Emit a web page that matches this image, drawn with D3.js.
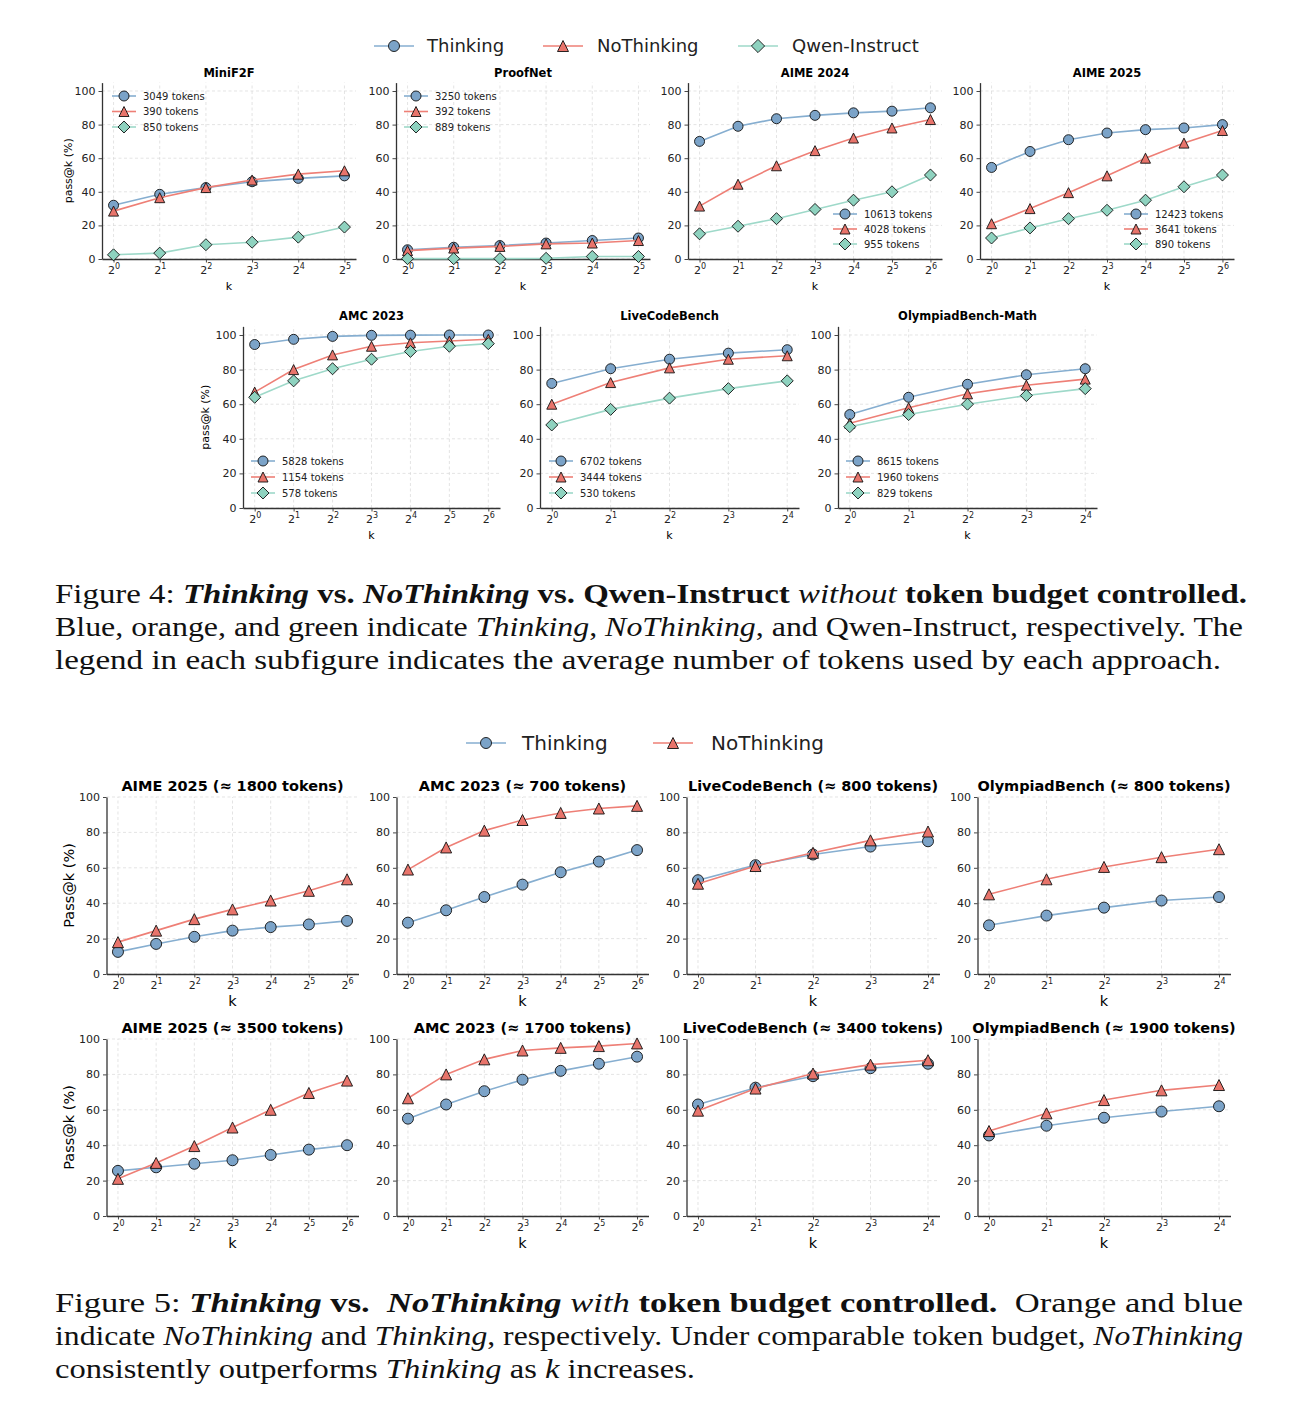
<!DOCTYPE html>
<html>
<head>
<meta charset="utf-8">
<script src="https://cdn.jsdelivr.net/npm/d3@7"></script>
<style>
body{margin:0;background:#fff}
svg{display:block}
text{font-family:"DejaVu Sans",sans-serif}
svg text.cap{font-family:"Liberation Serif","Times New Roman",serif;white-space:pre}
</style>
</head>
<body>
<div id="chart"></div>
<script>
const width = 1302
const height = 1419

// ---- data ----
const exp5 = [0,1,2,3,4]
const exp6 = [0,1,2,3,4,5]
const exp7 = [0,1,2,3,4,5,6]
const yTicks = [0,20,40,60,80,100]
const names4 = ["Thinking","NoThinking","Qwen-Instruct"]
const names5 = ["Thinking","NoThinking"]

// figure 4
const minif2fThinking = [32,38.5,42.5,46,48,49.5]
const minif2fNoThinking = [28.5,36.5,42.5,47,50.5,52.5]
const minif2fQwen = [2.5,3.5,8.5,10,13,19]
const minif2fTokens = ["3049 tokens","390 tokens","850 tokens"]

const proofnetThinking = [5.5,7,8,9.5,11,12.5]
const proofnetNoThinking = [5,6.5,7.5,9,9.5,11]
const proofnetQwen = [0.2,0.2,0.2,0.4,1.5,1.5]
const proofnetTokens = ["3250 tokens","392 tokens","889 tokens"]

const aime24Thinking = [70,79,83.5,85.5,87,88,90]
const aime24NoThinking = [31.5,44.5,55.5,64.5,72,78,83]
const aime24Qwen = [15,19.5,24,29.5,35,40,50]
const aime24Tokens = ["10613 tokens","4028 tokens","955 tokens"]

const aime25Thinking = [54.5,64,71,75,77,78,80]
const aime25NoThinking = [21,30,39.5,49.5,60,69,76.5]
const aime25Qwen = [12.5,18.5,24,29,35,43,50]
const aime25Tokens = ["12423 tokens","3641 tokens","890 tokens"]

const amcThinking = [94.5,97.5,99.2,99.8,99.9,100,100]
const amcNoThinking = [67,80,88.5,93.5,95.5,96.5,97.5]
const amcQwen = [64,73.5,80.5,86,90.5,93.5,95]
const amcTokens = ["5828 tokens","1154 tokens","578 tokens"]

const lcbThinking = [72,80.5,86,89.5,91.5]
const lcbNoThinking = [60,72.5,81,86,88]
const lcbQwen = [48,57,63.5,69,73.5]
const lcbTokens = ["6702 tokens","3444 tokens","530 tokens"]

const olyThinking = [54,64,71.5,77,80.5]
const olyNoThinking = [49,58,66,71,74.5]
const olyQwen = [47,54,60,65,69]
const olyTokens = ["8615 tokens","1960 tokens","829 tokens"]

// figure 5
const b_aime1800Thinking = [12.5,17,21,24.5,26.5,28,30]
const b_aime1800NoThinking = [18,24.5,31,36.5,41.5,47,53.5]
const b_amc700Thinking = [29,36,43.5,50.5,57.5,63.5,70]
const b_amc700NoThinking = [59,71.5,81,87,91,93.5,95]
const b_lcb800Thinking = [53,61.5,67.5,72,75]
const b_lcb800NoThinking = [51,61,68.5,75.5,80.5]
const b_oly800Thinking = [27.5,33,37.5,41.5,43.5]
const b_oly800NoThinking = [45,53.5,60.5,66,70.5]

const b_aime3500Thinking = [25.5,27.5,29.5,31.5,34.5,37.5,40]
const b_aime3500NoThinking = [21,30,39.5,50,60,69.5,76.5]
const b_amc1700Thinking = [55,63,70.5,77,82,86,90]
const b_amc1700NoThinking = [66.5,80,88.5,93.5,95,96,97.5]
const b_lcb3400Thinking = [63,72.5,79,83.5,86]
const b_lcb3400NoThinking = [59.5,72,80.5,85.5,88]
const b_oly1900Thinking = [45.5,51,55.5,59,62]
const b_oly1900NoThinking = [48,58,65.5,71,74]

// ---- styles ----
const fills = ["#7BA3C8","#E8746B","#8ED2BF"]
const strokes = ["#86AED0","#EE7F76","#9ED9C9"]
const shapes = ["circle","triangle","diamond"]

const svg = d3.select("div#chart").append("svg").attr("width",width).attr("height",height)

function marker(g, shape, cx, cy, s, fill){
    let el
    if(shape=="circle"){
        el = g.append("circle").attr("cx",cx).attr("cy",cy).attr("r",s)
    } else if(shape=="triangle"){
        el = g.append("path").attr("d",`M${cx},${cy-s}L${cx+s},${cy+s}L${cx-s},${cy+s}Z`)
    } else {
        const d = s*1.2
        el = g.append("path").attr("d",`M${cx},${cy-d}L${cx+d},${cy}L${cx},${cy+d}L${cx-d},${cy}Z`)
    }
    el.attr("fill",fill).attr("stroke","#111").attr("stroke-width",0.9)
}

function panel(p, o){
    const g = svg.append("g")
    const n = p.exps.length
    const pad = (n-1)*0.05
    const x = d3.scaleLinear().domain([-pad, n-1+pad]).range([p.x0, p.x0+p.w])
    const y = d3.scaleLinear().domain(o.ydom).range([p.bottom, p.bottom-p.h])

    // grid
    g.append("g").selectAll("line").data(yTicks).join("line")
        .attr("x1",p.x0).attr("x2",p.x0+p.w).attr("y1",d=>y(d)).attr("y2",d=>y(d))
        .attr("stroke","#d9d9d9").attr("stroke-width",0.7).attr("stroke-dasharray","3,2.5")
    g.append("g").selectAll("line").data(p.exps).join("line")
        .attr("x1",d=>x(d)).attr("x2",d=>x(d)).attr("y1",p.bottom).attr("y2",p.bottom-p.h)
        .attr("stroke","#d9d9d9").attr("stroke-width",0.7).attr("stroke-dasharray","3,2.5")

    // axes
    const yAxisGroup = g.append("g").attr("transform",`translate(${p.x0},0)`)
        .call(d3.axisLeft(y).tickValues(yTicks).tickSize(3.5).tickSizeOuter(0).tickPadding(3))
    const xAxisGroup = g.append("g").attr("transform",`translate(0,${p.bottom})`)
        .call(d3.axisBottom(x).tickValues(p.exps).tickSize(3.5).tickSizeOuter(0).tickFormat(""))
    yAxisGroup.selectAll("text").attr("font-size",11).attr("fill","#222").attr("font-family","DejaVu Sans")
    g.selectAll(".domain").attr("stroke","#333").attr("stroke-width",1.3)
    g.selectAll(".tick line").attr("stroke","#333").attr("stroke-width",0.9)

    xAxisGroup.selectAll(".tick").append("text")
        .attr("y",14.5).attr("text-anchor","middle").attr("fill","#222").attr("font-size",11)
        .each(function(d){
            const t = d3.select(this)
            t.append("tspan").text("2")
            t.append("tspan").attr("dy",-4.5).attr("font-size",8).text(d)
        })

    // titles and labels
    g.append("text").attr("x",p.x0+p.w/2).attr("y",p.bottom-p.h+o.titleOff)
        .attr("text-anchor","middle").attr("font-weight","bold").attr("font-size",o.titleSize).text(p.title)
    g.append("text").attr("x",p.x0+p.w/2).attr("y",p.bottom+o.kOff)
        .attr("text-anchor","middle").attr("font-size",o.labelSize).text("k")
    if(p.ylabel){
        g.append("text").attr("transform",`translate(${p.ylabel},${p.bottom-p.h/2}) rotate(-90)`)
            .attr("text-anchor","middle").attr("font-size",o.labelSize).text(o.ylabelText)
    }

    // series
    const line = d3.line().x((d,i)=>x(p.exps[i])).y(d=>y(d))
    p.vals.forEach((vals,si)=>{
        const sg = g.append("g")
        sg.append("path").datum(vals).attr("d",line).attr("fill","none")
            .attr("stroke",strokes[si]).attr("stroke-width",1.6)
        vals.forEach((v,i)=> marker(sg, shapes[si], x(p.exps[i]), y(v), o.ms, fills[si]))
    })

    // per-panel token legend
    if(p.tokens){
        const [mx,my,dy] = p.leg
        p.tokens.forEach((t,i)=>{
            const ly = my + i*dy
            g.append("line").attr("x1",mx-12).attr("x2",mx+12).attr("y1",ly).attr("y2",ly)
                .attr("stroke",strokes[i]).attr("stroke-width",1.6)
            marker(g, shapes[i], mx, ly, 5, fills[i])
            g.append("text").attr("x",mx+19).attr("y",ly+3.6).attr("font-size",10).attr("fill","#222").text(t)
        })
    }
}

function topLegend(items, y, size, ms){
    items.forEach((it,i)=>{
        svg.append("line").attr("x1",it[0]-20).attr("x2",it[0]+20).attr("y1",y).attr("y2",y)
            .attr("stroke",strokes[i]).attr("stroke-width",1.6)
        marker(svg, shapes[i], it[0], y, ms, fills[i])
        svg.append("text").attr("x",it[1]).attr("y",y+size*0.36).attr("font-size",size).attr("fill","#222").text(it[2])
    })
}

// ---- figure 4 ----
const f4opt = {ydom:[0,105], titleOff:-6, titleSize:11.5, labelSize:11, kOff:31, ms:5, ylabelText:"pass@k (%)"}
const h4a = 105*1.68, h4b = 105*1.73
const fig4 = [
    {title:"MiniF2F", exps:exp6, vals:[minif2fThinking,minif2fNoThinking,minif2fQwen], tokens:minif2fTokens, x0:102, bottom:259, w:254, h:h4a, ylabel:72, leg:[124,96,15.5]},
    {title:"ProofNet", exps:exp6, vals:[proofnetThinking,proofnetNoThinking,proofnetQwen], tokens:proofnetTokens, x0:396, bottom:259, w:254, h:h4a, leg:[416,96,15.5]},
    {title:"AIME 2024", exps:exp7, vals:[aime24Thinking,aime24NoThinking,aime24Qwen], tokens:aime24Tokens, x0:688, bottom:259, w:254, h:h4a, leg:[845,214,15]},
    {title:"AIME 2025", exps:exp7, vals:[aime25Thinking,aime25NoThinking,aime25Qwen], tokens:aime25Tokens, x0:980, bottom:259, w:254, h:h4a, leg:[1136,214,15]},
    {title:"AMC 2023", exps:exp7, vals:[amcThinking,amcNoThinking,amcQwen], tokens:amcTokens, x0:243, bottom:508, w:257, h:h4b, ylabel:209, leg:[263,461,16]},
    {title:"LiveCodeBench", exps:exp5, vals:[lcbThinking,lcbNoThinking,lcbQwen], tokens:lcbTokens, x0:540, bottom:508, w:259, h:h4b, leg:[561,461,16]},
    {title:"OlympiadBench-Math", exps:exp5, vals:[olyThinking,olyNoThinking,olyQwen], tokens:olyTokens, x0:838, bottom:508, w:259, h:h4b, leg:[858,461,16]}
]
fig4.forEach(p=>panel(p,f4opt))
topLegend([[394,427,names4[0]],[563,597,names4[1]],[758,792,names4[2]]], 46, 18, 5.5)

// ---- figure 5 ----
const f5opt = {ydom:[0,100], titleOff:-6, titleSize:14.5, labelSize:14.5, kOff:32, ms:5.5, ylabelText:"Pass@k (%)"}
const h5 = 177
const fig5 = [
    {title:"AIME 2025 (≈ 1800 tokens)", exps:exp7, vals:[b_aime1800Thinking,b_aime1800NoThinking], x0:106.5, bottom:974, w:252, h:h5, ylabel:74},
    {title:"AMC 2023 (≈ 700 tokens)", exps:exp7, vals:[b_amc700Thinking,b_amc700NoThinking], x0:396.5, bottom:974, w:252, h:h5},
    {title:"LiveCodeBench (≈ 800 tokens)", exps:exp5, vals:[b_lcb800Thinking,b_lcb800NoThinking], x0:686.5, bottom:974, w:253, h:h5},
    {title:"OlympiadBench (≈ 800 tokens)", exps:exp5, vals:[b_oly800Thinking,b_oly800NoThinking], x0:977.5, bottom:974, w:253, h:h5},
    {title:"AIME 2025 (≈ 3500 tokens)", exps:exp7, vals:[b_aime3500Thinking,b_aime3500NoThinking], x0:106.5, bottom:1216, w:252, h:h5, ylabel:74},
    {title:"AMC 2023 (≈ 1700 tokens)", exps:exp7, vals:[b_amc1700Thinking,b_amc1700NoThinking], x0:396.5, bottom:1216, w:252, h:h5},
    {title:"LiveCodeBench (≈ 3400 tokens)", exps:exp5, vals:[b_lcb3400Thinking,b_lcb3400NoThinking], x0:686.5, bottom:1216, w:253, h:h5},
    {title:"OlympiadBench (≈ 1900 tokens)", exps:exp5, vals:[b_oly1900Thinking,b_oly1900NoThinking], x0:977.5, bottom:1216, w:253, h:h5}
]
fig5.forEach(p=>panel(p,f5opt))
topLegend([[486,522,names5[0]],[673,711,names5[1]]], 743, 20, 5.5)

// ---- captions ----
const captions = [
    {y:603, len:1192, parts:[["Figure 4: ",""],["Thinking","bi"],[" vs. ","b"],["NoThinking","bi"],[" vs. Qwen-Instruct ","b"],["without","i"],[" token budget controlled.","b"]]},
    {y:636, len:1188, parts:[["Blue, orange, and green indicate ",""],["Thinking","i"],[", ",""],["NoThinking","i"],[", and Qwen-Instruct, respectively. The",""]]},
    {y:669, len:1166, parts:[["legend in each subfigure indicates the average number of tokens used by each approach.",""]]},
    {y:1312, len:1188, parts:[["Figure 5: ",""],["Thinking","bi"],[" vs.  ","b"],["NoThinking","bi"],[" ","b"],["with","i"],[" token budget controlled.","b"],["  Orange and blue",""]]},
    {y:1345, len:1188, parts:[["indicate ",""],["NoThinking","i"],[" and ",""],["Thinking","i"],[", respectively. Under comparable token budget, ",""],["NoThinking","i"]]},
    {y:1378, len:640, parts:[["consistently outperforms ",""],["Thinking","i"],[" as ",""],["k","i"],[" increases.",""]]}
]
captions.forEach(c=>{
    const t = svg.append("text").attr("class","cap").attr("x",55).attr("y",c.y)
        .attr("font-family","Liberation Serif").attr("font-size",28).attr("fill","#111")
        .attr("textLength",c.len).attr("lengthAdjust","spacingAndGlyphs")
    c.parts.forEach(pt=>{
        t.append("tspan").text(pt[0]).attr("font-family","Liberation Serif")
            .attr("font-weight",pt[1].includes("b")?"bold":"normal")
            .attr("font-style",pt[1].includes("i")?"italic":"normal")
    })
})
</script>
</body>
</html>
